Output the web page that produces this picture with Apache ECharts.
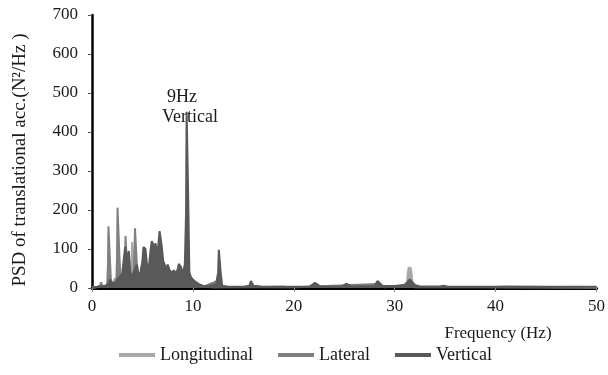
<!DOCTYPE html>
<html><head><meta charset="utf-8">
<script src="https://cdn.jsdelivr.net/npm/echarts@6/dist/echarts.min.js"></script>
<style>html,body{margin:0;padding:0;background:#fff}#c{width:608px;height:375px}</style>
</head><body><div id="c"></div>
<script>
const seriesNames = ['Longitudinal', 'Lateral', 'Vertical'];
const xTicks = [0, 10, 20, 30, 40, 50];
const yTicks = [0, 100, 200, 300, 400, 500, 600, 700];
// [frequency (Hz), PSD]
const longitudinal = [[0,1],[1.8,5],[2.3,25],[2.5,10],[3.0,15],[3.92,60],[3.98,118],[4.08,120],[4.15,60],[4.3,15],[5,10],[7,10],[9.4,15],[10,5],[12,2],[31.2,3],[31.3,40],[31.38,52],[31.58,52],[31.66,40],[31.8,3],[50,1]];
const lateral = [[0,1],[0.8,3],[0.88,15],[1.0,15],[1.1,3],[1.5,4],[1.58,60],[1.63,158],[1.75,158],[1.8,60],[1.9,6],[2.4,8],[2.48,80],[2.53,206],[2.66,206],[2.72,80],[2.85,10],[3.2,20],[3.27,60],[3.32,133],[3.44,133],[3.5,50],[3.7,20],[4.1,30],[4.2,80],[4.26,153],[4.38,153],[4.45,60],[4.6,20],[5,15],[6,25],[7,20],[8,15],[9,20],[9.4,60],[9.6,20],[10,8],[11,3],[12.6,20],[13,3],[20,2],[28.3,10],[29,2],[31.5,10],[32,2],[50,2]];
const vertical = [[0,2],[0.5,3],[0.8,5],[1.0,4],[1.3,6],[1.6,10],[1.8,22],[2.0,12],[2.3,15],[2.6,25],[2.8,30],[3.0,38],[3.15,40],[3.28,105],[3.4,105],[3.5,75],[3.65,95],[3.8,40],[4.0,30],[4.2,45],[4.45,60],[4.6,35],[4.8,40],[5.0,70],[5.1,105],[5.22,105],[5.3,100],[5.45,60],[5.6,45],[5.8,95],[5.92,120],[6.02,120],[6.1,110],[6.2,97],[6.3,115],[6.45,80],[6.6,118],[6.7,146],[6.82,146],[6.9,110],[7.05,70],[7.2,65],[7.35,50],[7.5,60],[7.7,45],[7.9,40],[8.1,45],[8.3,38],[8.5,48],[8.6,62],[8.72,62],[8.8,55],[9.0,38],[9.2,60],[9.32,190],[9.38,452],[9.5,452],[9.56,190],[9.65,40],[9.8,28],[10.0,22],[10.3,15],[10.6,10],[11.0,6],[11.5,5],[12.0,8],[12.3,10],[12.5,40],[12.57,98],[12.69,98],[12.75,40],[12.9,6],[13.5,3],[15.0,3],[15.6,6],[15.75,18],[15.85,18],[16.0,6],[17,3],[19,4],[19.2,3],[21.6,4],[22.1,13],[22.6,4],[24.8,4],[25.2,11],[25.7,4],[28.0,5],[28.3,18],[28.4,18],[28.8,5],[30.5,6],[31.0,8],[31.5,22],[32.0,8],[32.5,4],[34.5,4],[34.8,6],[35.2,4],[40,3],[41,4],[45,3],[50,3]];
const colors = ['#a8a8a8', '#808080', '#595959'];
const FONT = '"Liberation Serif", "Times New Roman", serif';

const chart = echarts.init(document.getElementById('c'), null, {renderer: 'canvas'});
const dataSets = [longitudinal, lateral, vertical];
chart.setOption({
  animation: false,
  backgroundColor: '#fff',
  grid: {left: 92, right: 8, top: 15, bottom: 87, containLabel: false},
  xAxis: {
    type: 'value', min: xTicks[0], max: xTicks[xTicks.length-1], interval: 10,
    axisLine: {lineStyle: {color: '#000', width: 3}},
    axisTick: {show: true, length: 4, lineStyle: {color: '#888', width: 1}},
    axisLabel: {fontFamily: FONT, fontSize: 17, color: '#1a1a1a', margin: 10},
    splitLine: {show: false}
  },
  yAxis: {
    type: 'value', min: yTicks[0], max: yTicks[yTicks.length-1], interval: 100,
    axisLine: {show: true, lineStyle: {color: '#000', width: 2.5}},
    axisTick: {show: true, length: 4, lineStyle: {color: '#555', width: 1}},
    axisLabel: {fontFamily: FONT, fontSize: 17, color: '#1a1a1a', margin: 14},
    splitLine: {show: false}
  },
  legend: {
    bottom: 6, left: 114, itemWidth: 36, itemHeight: 4, itemGap: 25, icon: 'rect',
    textStyle: {fontFamily: FONT, fontSize: 18, color: '#1a1a1a'},
    data: seriesNames
  },
  series: seriesNames.map((n, i) => ({
    name: n, type: 'line', data: dataSets[i], symbol: 'none', showSymbol: false,
    lineStyle: {color: colors[i], width: 2}, itemStyle: {color: colors[i]},
    areaStyle: {color: colors[i], opacity: 1}, z: 2 + i
  })),
  graphic: [
    {type: 'text', x: 20, y: 160, rotation: Math.PI/2, style: {text: 'PSD of translational acc.(N²/Hz )', fontFamily: FONT, fontSize: 19, fill: '#1a1a1a', align: 'center', verticalAlign: 'middle'}},
    {type: 'text', x: 498, y: 334, style: {text: 'Frequency (Hz)', fontFamily: FONT, fontSize: 17, fill: '#1a1a1a', align: 'center', verticalAlign: 'middle'}},
    {type: 'text', x: 182, y: 97, style: {text: '9Hz', fontFamily: FONT, fontSize: 18, fill: '#1a1a1a', align: 'center', verticalAlign: 'middle'}},
    {type: 'text', x: 190, y: 117, style: {text: 'Vertical', fontFamily: FONT, fontSize: 18, fill: '#1a1a1a', align: 'center', verticalAlign: 'middle'}}
  ]
});
</script></body></html>
